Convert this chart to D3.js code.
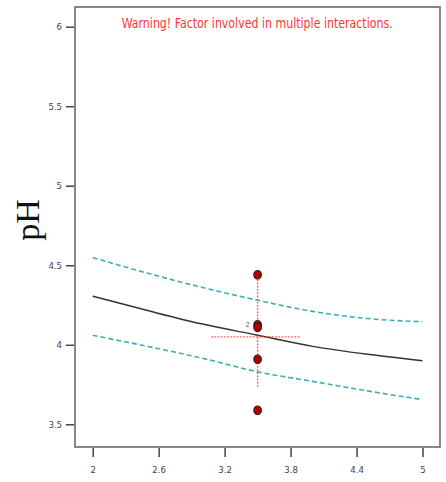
<!DOCTYPE html>
<html>
<head>
<meta charset="utf-8">
<script src="https://cdn.jsdelivr.net/npm/d3@7"></script>
<style>
  html, body { margin: 0; padding: 0; background: #fff; }
  svg { display: block; }
</style>
</head>
<body>
<script>
// Factor levels along the x axis where the model curves are sampled
const xLevels = [2, 2.5, 3, 3.5, 4, 4.5, 5];
// Predicted pH and its 95% confidence band
const meanPH  = [4.305, 4.215, 4.13, 4.06, 3.99, 3.94, 3.90];
const upperPH = [4.548, 4.45, 4.36, 4.28, 4.21, 4.165, 4.145];
const lowerPH = [4.06, 3.99, 3.915, 3.83, 3.77, 3.71, 3.655];

// Observed design points (two replicates coincide near 4.12)
const obsX  = [3.5, 3.5, 3.5, 3.5, 3.5];
const obsPH = [4.44, 4.125, 4.11, 3.909, 3.588];
const repLabel = "2";

// LSD cross-hair at the centre point
const crossX = 3.5, crossY = 4.05;
const crossXRange = [3.08, 3.895];
const crossYRange = [3.731, 4.41];

const xTicks = [2, 2.6, 3.2, 3.8, 4.4, 5];
const yTicks = [3.5, 4, 4.5, 5, 5.5, 6];
const yTitle = "pH";
const warning = "Warning! Factor involved in multiple interactions.";

const W = 446, H = 482;
const frame = { left: 75, top: 7, right: 440, bottom: 447 };

const svg = d3.select("body").append("svg")
  .attr("width", W).attr("height", H);

const x = d3.scaleLinear().domain([2, 5]).range([92.7, 422.5]);
const y = d3.scaleLinear().domain([3.5, 6]).range([424.3, 26.7]);

// plot frame
svg.append("rect")
  .attr("x", frame.left).attr("y", frame.top)
  .attr("width", frame.right - frame.left)
  .attr("height", frame.bottom - frame.top)
  .attr("fill", "#fff")
  .attr("stroke", "#6a6a6a").attr("stroke-width", 1.6);

const tickFont = "'DejaVu Sans Condensed', 'Liberation Sans Narrow', sans-serif";

// y axis
const yAxis = svg.append("g")
  .attr("transform", `translate(${frame.left - 1},0)`)
  .call(d3.axisLeft(y).tickValues(yTicks).tickSize(8).tickPadding(4)
    .tickFormat(d3.format("")));
yAxis.select(".domain").remove();
yAxis.selectAll(".tick line").attr("stroke", "#444").attr("stroke-width", 1.5);
yAxis.selectAll(".tick text")
  .attr("fill", "#444")
  .style("font-family", tickFont)
  .style("font-size", "9.5px");

// x axis
const xAxis = svg.append("g")
  .attr("transform", `translate(0,${frame.bottom + 1})`)
  .call(d3.axisBottom(x).tickValues(xTicks).tickSize(9).tickPadding(9)
    .tickFormat(d3.format("")));
xAxis.select(".domain").remove();
xAxis.selectAll(".tick line").attr("stroke", "#444").attr("stroke-width", 1.5);
xAxis.selectAll(".tick text")
  .attr("fill", "#444")
  .style("font-family", tickFont)
  .style("font-size", "9.5px");

// y title
svg.append("text")
  .attr("transform", "translate(38.5,220) rotate(-90)")
  .attr("text-anchor", "middle")
  .style("font-family", "'Liberation Serif', 'Times New Roman', serif")
  .style("font-size", "34px")
  .attr("fill", "#111")
  .text(yTitle);

// warning banner
svg.append("text")
  .attr("x", 257.2).attr("y", 28)
  .attr("text-anchor", "middle")
  .attr("textLength", 271)
  .attr("lengthAdjust", "spacingAndGlyphs")
  .style("font-family", "'Liberation Sans Narrow', 'DejaVu Sans Condensed', sans-serif")
  .style("font-size", "14px")
  .attr("fill", "#ff3434")
  .text(warning);

const line = (vals) => d3.line()
  .x((d, i) => x(xLevels[i]))
  .y(d => y(d))
  .curve(d3.curveMonotoneX)(vals);

// confidence band
[upperPH, lowerPH].forEach(vals => {
  svg.append("path")
    .attr("d", line(vals))
    .attr("fill", "none")
    .attr("stroke", "#3fb0ae")
    .attr("stroke-width", 1.6)
    .attr("stroke-dasharray", "5,3");
});

// prediction line
svg.append("path")
  .attr("d", line(meanPH))
  .attr("fill", "none")
  .attr("stroke", "#333")
  .attr("stroke-width", 1.5);

// LSD cross-hair
svg.append("line")
  .attr("x1", x(crossXRange[0])).attr("x2", x(crossXRange[1]))
  .attr("y1", y(crossY)).attr("y2", y(crossY))
  .attr("stroke", "#ff4a4a").attr("stroke-width", 1.4)
  .attr("stroke-dasharray", "1.6,1.6");
svg.append("line")
  .attr("x1", x(crossX)).attr("x2", x(crossX))
  .attr("y1", y(crossYRange[1])).attr("y2", y(crossYRange[0]))
  .attr("stroke", "#ff4a4a").attr("stroke-width", 1.4)
  .attr("stroke-dasharray", "1.6,1.6");

// observed points
svg.selectAll("ellipse.obs")
  .data(obsPH)
  .enter().append("ellipse")
  .attr("class", "obs")
  .attr("cx", (d, i) => x(obsX[i]))
  .attr("cy", d => y(d))
  .attr("rx", 3.8).attr("ry", 4.3)
  .attr("fill", "#b30000")
  .attr("stroke", "#1a1a1a").attr("stroke-width", 1);

// replicate count
svg.append("text")
  .attr("x", x(obsX[1]) - 8).attr("y", y(obsPH[1]) + 2)
  .attr("text-anchor", "end")
  .style("font-family", "'Liberation Sans', Arial, sans-serif")
  .style("font-size", "7px")
  .attr("fill", "#555")
  .text(repLabel);
</script>
</body>
</html>
